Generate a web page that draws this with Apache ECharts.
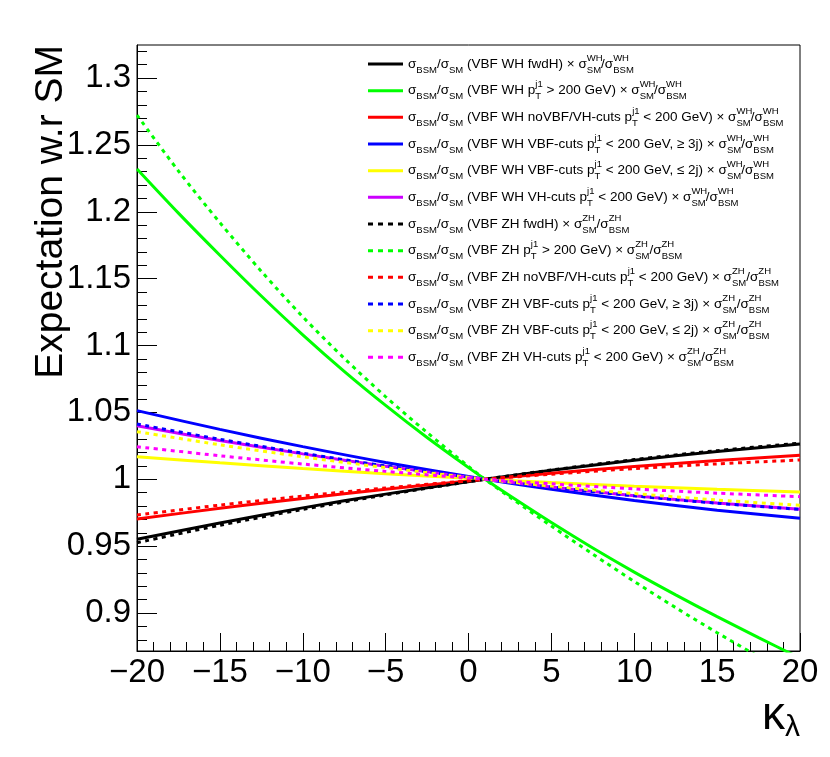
<!DOCTYPE html>
<html>
<head>
<meta charset="utf-8">
<script src="https://cdn.jsdelivr.net/npm/echarts@6/dist/echarts.min.js"></script>
<style>html,body{margin:0;padding:0;background:#fff;}#c{width:830px;height:757px;}</style>
</head>
<body>
<div id="c"></div>
<script>
// ---- data ----
const kappaFine = [-20,-17.5,-15,-12.5,-10,-7.5,-5,-2.5,0,1,2.5,5,7.5,10,12.5,15,17.5,20];
const kappaCoarse = [-20,-15,-10,-5,1,5,10,15,20];

const greenWH  = [1.232,1.199,1.1675,1.137,1.108,1.0807,1.0552,1.0312,1.0087,1.0,0.9876,0.9676,0.9486,0.9306,0.9136,0.8973,0.8816,0.8663];
const greenZH  = [1.2723,1.2305,1.1919,1.1555,1.1215,1.0905,1.0617,1.0350,1.0096,1.0,0.9866,0.9650,0.9440,0.9236,0.9040,0.8853,0.8675,0.8505];

const blackWH  = [0.9551,0.9673,0.9786,0.9889,1.0,1.0067,1.0142,1.0207,1.0263];
const redWH    = [0.9703,0.9783,0.9857,0.9926,1.0,1.0045,1.0095,1.0140,1.0179];
const blueWH   = [1.0513,1.0373,1.0244,1.0126,1.0,0.9925,0.9841,0.9769,0.9708];
const yellowWH = [1.0169,1.0123,1.0080,1.0041,1.0,0.9975,0.9948,0.9925,0.9905];
const purpleWH = [1.0400,1.0290,1.0190,1.0098,1.0,0.9942,0.9877,0.9822,0.9775];
const blackZH  = [0.9526,0.9656,0.9775,0.9883,1.0,1.0069,1.0147,1.0214,1.0270];
const redZH    = [0.9733,0.9807,0.9874,0.9935,1.0,1.0038,1.0080,1.0115,1.0144];
const blueZH   = [1.0413,1.0299,1.0195,1.0100,1.0,0.9941,0.9876,0.9821,0.9775];
const yellowZH = [1.0356,1.0258,1.0168,1.0087,1.0,0.9949,0.9893,0.9845,0.9805];
const magentaZH= [1.0243,1.0176,1.0114,1.0059,1.0,0.9966,0.9928,0.9896,0.9870];

const yMajorTicks = [0.9,0.95,1.0,1.05,1.1,1.15,1.2,1.25,1.3];
const xTickLabels = [-20,-15,-10,-5,0,5,10,15,20];

// ---- legend labels ----
const FONT = 'Liberation Sans';
const sig = '{n|σ}{b|BSM}{n|/σ}{b|SM}';
function tail(P){ return '{n|) × σ}{p0|'+P+'}{b|SM}{n|/σ}{p0|'+P+'}{b|BSM}'; }
const pT = '{n|p}{b0|T}{p|j1}';
function lab(ch, mid){ return sig + '{n| (VBF ' + ch + ' }' + mid + tail(ch); }
const richMids = [
  '{n|fwdH}',
  pT + '{n| > 200 GeV}',
  '{n|noVBF/VH-cuts }' + pT + '{n| < 200 GeV}',
  '{n|VBF-cuts }' + pT + '{n| < 200 GeV, ≥ 3j}',
  '{n|VBF-cuts }' + pT + '{n| < 200 GeV, ≤ 2j}',
  '{n|VH-cuts }' + pT + '{n| < 200 GeV}'
];
const plainMid = ['fwdH','pT > 200 GeV','noVBF/VH-cuts pT < 200 GeV','VBF-cuts pT < 200 GeV, ≥ 3j','VBF-cuts pT < 200 GeV, ≤ 2j','VH-cuts pT < 200 GeV'];

const seriesDefs = [
  {ch:'WH', i:0, x:kappaCoarse, y:blackWH,  color:'#000000', dash:false},
  {ch:'WH', i:1, x:kappaFine,   y:greenWH,  color:'#00ff00', dash:false},
  {ch:'WH', i:2, x:kappaCoarse, y:redWH,    color:'#ff0000', dash:false},
  {ch:'WH', i:3, x:kappaCoarse, y:blueWH,   color:'#0000ff', dash:false},
  {ch:'WH', i:4, x:kappaCoarse, y:yellowWH, color:'#ffff00', dash:false},
  {ch:'WH', i:5, x:kappaCoarse, y:purpleWH, color:'#cc00ff', dash:false},
  {ch:'ZH', i:0, x:kappaCoarse, y:blackZH,  color:'#000000', dash:true},
  {ch:'ZH', i:1, x:kappaFine,   y:greenZH,  color:'#00ff00', dash:true},
  {ch:'ZH', i:2, x:kappaCoarse, y:redZH,    color:'#ff0000', dash:true},
  {ch:'ZH', i:3, x:kappaCoarse, y:blueZH,   color:'#0000ff', dash:true},
  {ch:'ZH', i:4, x:kappaCoarse, y:yellowZH, color:'#ffff00', dash:true},
  {ch:'ZH', i:5, x:kappaCoarse, y:magentaZH,color:'#ff00ff', dash:true}
];

const ICON_SOLID = 'path://M0,0h35v3h-35z';
const ICON_DOT = 'path://M0,0h5v3h-5zM10,0h5v3h-5zM20,0h5v3h-5zM30,0h5v3h-5z';

const richLabels = {};
const legendData = [];
const series = seriesDefs.map(d => {
  const name = 'σBSM/σSM (VBF ' + d.ch + ' ' + plainMid[d.i] + ') × σSM/σBSM ' + d.ch;
  richLabels[name] = lab(d.ch, richMids[d.i]);
  legendData.push({name: name, icon: d.dash ? ICON_DOT : ICON_SOLID, itemStyle: {color: d.color, borderWidth: 0}});
  return {
    name: name,
    type: 'line',
    symbol: 'none',
    smooth: 0.3,
    clip: true,
    yAxisIndex: 0,
    color: d.color,
    itemStyle: {color: d.color},
    lineStyle: {color: d.color, width: 3, type: d.dash ? [4, 4.5] : 'solid', cap: 'butt'},
    data: d.x.map((k, j) => [k, d.y[j]])
  };
});

const yMinor = [];
for (let v = 88; v <= 132; v++) yMinor.push(v / 100);

const YMIN = 0.8716, YMAX = 1.3247;

const chart = echarts.init(document.getElementById('c'), null, {renderer: 'canvas'});
chart.setOption({
  animation: false,
  backgroundColor: '#ffffff',
  textStyle: {fontFamily: FONT},
  grid: {left: 137, right: 30, top: 45, bottom: 106, show: true, borderColor: '#000', borderWidth: 1, containLabel: false, outerBoundsMode: 'none'},
  legend: {
    orient: 'vertical', left: 368, top: 53, padding: 0,
    itemWidth: 35, itemHeight: 3, itemGap: 4.67,
    symbolKeepAspect: false,
    itemStyle: {borderWidth: 0},
    formatter: name => richLabels[name],
    textStyle: {
      fontFamily: FONT, color: '#000',
      rich: {
        n:  {fontSize: 13.5, lineHeight: 22, fontFamily: FONT, color: '#000'},
        b:  {fontSize: 9.5, lineHeight: 12, verticalAlign: 'bottom', fontFamily: FONT, color: '#000'},
        b0: {fontSize: 9.5, lineHeight: 12, verticalAlign: 'bottom', width: 0.1, fontFamily: FONT, color: '#000'},
        p:  {fontSize: 9.5, lineHeight: 10, verticalAlign: 'top', fontFamily: FONT, color: '#000'},
        p0: {fontSize: 9.5, lineHeight: 10, verticalAlign: 'top', width: 0.1, fontFamily: FONT, color: '#000'}
      }
    },
    data: legendData
  },
  xAxis: {
    type: 'value', min: -20, max: 20, interval: 5,
    axisLine: {show: true, onZero: false, lineStyle: {color: '#000', width: 1}},
    axisTick: {show: true, inside: true, length: 18, lineStyle: {color: '#000', width: 1}},
    minorTick: {show: true, splitNumber: 5, length: 9, lineStyle: {color: '#000', width: 1}},
    splitLine: {show: false},
    minorSplitLine: {show: false},
    axisLabel: {
      fontSize: 33, color: '#000', margin: 5, fontFamily: FONT,
      customValues: xTickLabels,
      formatter: v => String(v).replace('-', '\u2212')
    },
    name: '{k|κ}{l|λ}',
    nameLocation: 'end', nameGap: 0, nameMoveOverlap: false,
    nameTextStyle: {
      align: 'right', verticalAlign: 'top', padding: [40, 0, 0, 0],
      rich: {
        k: {fontSize: 46, lineHeight: 50, fontFamily: FONT, color: '#000'},
        l: {fontSize: 30, lineHeight: 30, verticalAlign: 'top', padding: [22, 0, 0, 0], fontFamily: FONT, color: '#000'}
      }
    }
  },
  yAxis: [
    {
      type: 'value', min: YMIN, max: YMAX, position: 'left',
      axisLine: {show: true, onZero: false, lineStyle: {color: '#000', width: 1}},
      axisTick: {show: true, inside: true, length: 20, customValues: yMajorTicks, lineStyle: {color: '#000', width: 1}},
      splitLine: {show: false},
      axisLabel: {
        fontSize: 33, color: '#000', margin: 6, fontFamily: FONT,
        customValues: yMajorTicks,
        formatter: v => String(+(+v).toFixed(2))
      },
      name: 'Expectation w.r SM',
      nameLocation: 'end', nameGap: 0, nameRotate: 90, nameMoveOverlap: false,
      nameTextStyle: {fontSize: 39, color: '#000', fontFamily: FONT, align: 'right', verticalAlign: 'bottom', padding: [0, 0, 66, 0]}
    },
    {
      type: 'value', min: YMIN, max: YMAX, position: 'left',
      axisLine: {show: false, onZero: false},
      axisTick: {show: true, inside: true, length: 10, customValues: yMinor, lineStyle: {color: '#000', width: 1}},
      axisLabel: {show: false},
      splitLine: {show: false}
    }
  ],
  series: series
});
</script>
</body>
</html>
